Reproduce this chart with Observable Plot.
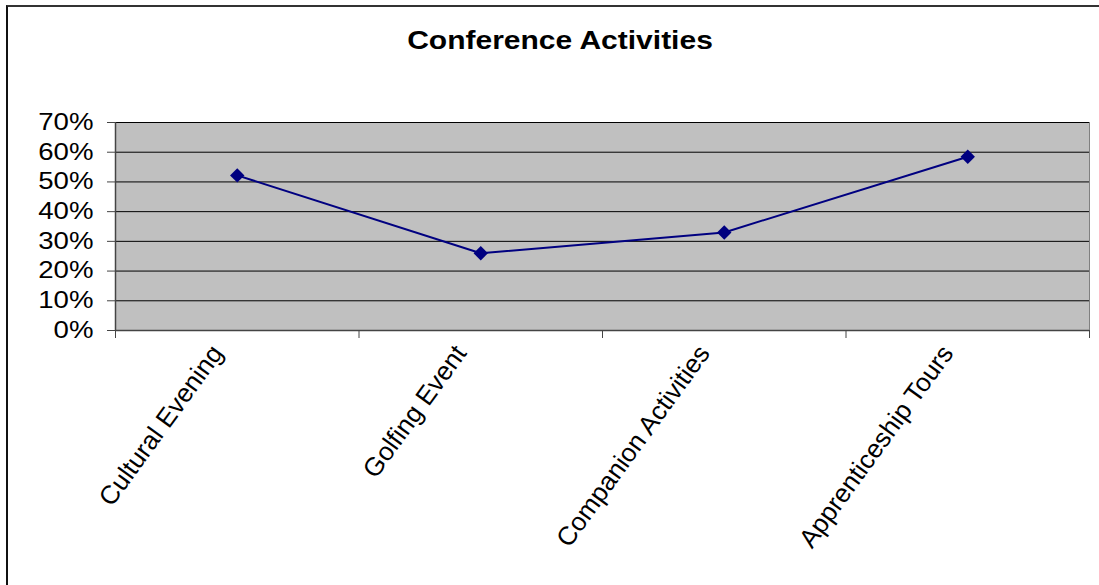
<!DOCTYPE html>
<html><head><meta charset="utf-8">
<script src="https://cdn.jsdelivr.net/npm/d3@7"></script>
<script src="https://cdn.jsdelivr.net/npm/@observablehq/plot@0.6"></script>
<style>
body{margin:0;background:#fff;}
#wrap{position:relative;width:1099px;height:585px;overflow:hidden;font-family:"Liberation Sans",Arial,sans-serif;}
#border{position:absolute;left:6px;top:5px;width:1200px;height:700px;border-left:2px solid #111;border-top:2px solid #333;pointer-events:none;}
#title{position:absolute;left:0;width:1120px;top:26px;text-align:center;font-weight:bold;font-size:25px;line-height:28px;transform:scaleX(1.2);transform-origin:560px 0;color:#000;}
#chart{position:absolute;left:0;top:0;}
</style></head>
<body>
<div id="wrap">
  <div id="chart"></div>
  <div id="title">Conference Activities</div>
  <div id="border"></div>
</div>
<script>
const categories = ["Cultural Evening", "Golfing Event", "Companion Activities", "Apprenticeship Tours"];
const values = [0.522, 0.26, 0.33, 0.585];
const yTicks = [0, 0.1, 0.2, 0.3, 0.4, 0.5, 0.6, 0.7];

const data = categories.map((c, i) => ({i, c, v: values[i]}));
const boundaries = d3.range(-0.5, categories.length, 1);
const centers = d3.range(categories.length);

const chart = Plot.plot({
  width: 1099,
  height: 585,
  marginLeft: 115,
  marginRight: 10,
  marginTop: 122,
  marginBottom: 255,
  style: {fontFamily: "Liberation Sans, Arial, sans-serif", color: "#000", background: "transparent"},
  x: {domain: [-0.5, categories.length - 0.5], label: null},
  y: {domain: [0, 0.7], label: null},
  marks: [
    Plot.frame({fill: "#c0c0c0", stroke: "#808080"}),
    Plot.ruleY(yTicks.slice(1), {stroke: "#000", strokeWidth: 1}),
    Plot.ruleY([0], {stroke: "#444", strokeWidth: 1.5}),
    Plot.ruleX([-0.5], {stroke: "#444", strokeWidth: 1.5}),
    Plot.axisY({ticks: yTicks, tickFormat: d3.format(".0%"), tickSize: 8, tickPadding: 14, fontSize: 23, stroke: "#444", label: null}),
    Plot.axisX({ticks: boundaries, tickFormat: () => "", tickSize: 8, stroke: "#444", label: null}),
    Plot.axisX({ticks: centers, tickFormat: i => categories[Math.round(i)], tickSize: 0, tickPadding: 18, tickRotate: -54, fontSize: 26, dx: -20, label: null}),
    Plot.line(data, {x: "i", y: "v", stroke: "#000080", strokeWidth: 2}),
    Plot.dot(data, {x: "i", y: "v", symbol: "diamond2", r: 6.5, fill: "#000080", stroke: "none"})
  ]
});
document.getElementById("chart").appendChild(chart);
chart.querySelectorAll('g[aria-label="y-axis tick label"] text').forEach(t => {
  const tr = t.getAttribute("transform") || "";
  t.setAttribute("transform", tr + " scale(1.2,1)");
});
</script>
</body></html>
